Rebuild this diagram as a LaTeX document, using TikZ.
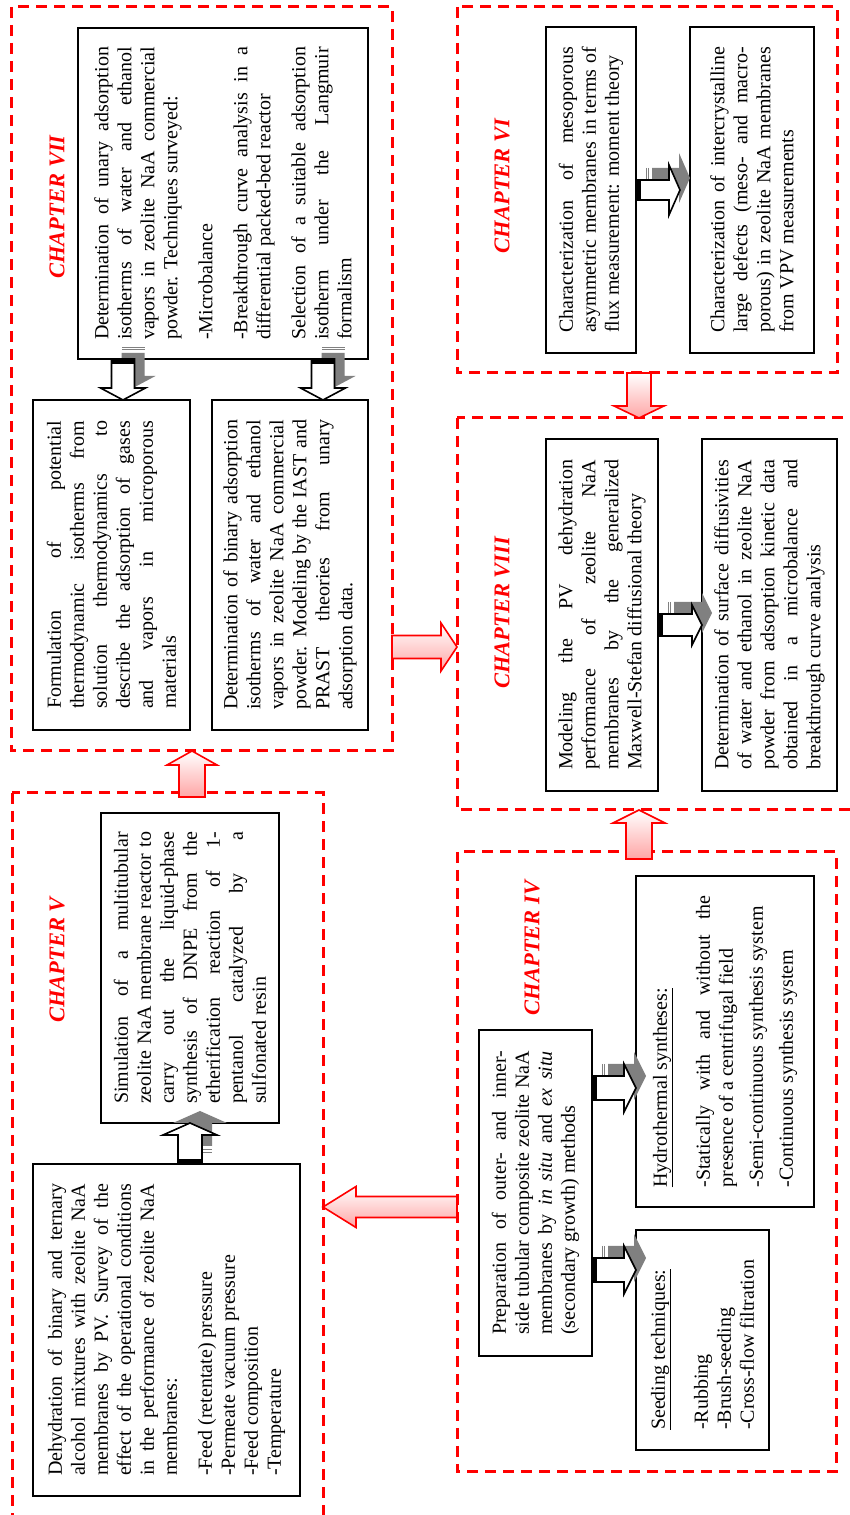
\documentclass[tikz,border=0pt]{standalone}
\usepackage{fontspec}
\setmainfont{Liberation Serif}
\usetikzlibrary{calc}

\setlength{\parindent}{0pt}
\tolerance=10000
\hbadness=10000
\hyphenpenalty=10000
\exhyphenpenalty=10000

\tikzset{
  chapframe/.style={draw=red, line width=3pt, dash pattern=on 11pt off 7pt, outer sep=0pt},
  chaptitle/.style={text=red, inner sep=0pt, font=\fontsize{22.5}{27}\selectfont\bfseries\itshape},
  stepbox/.style={draw, fill=white, line width=1.8pt, inner sep=0pt, outer sep=0pt, align=justify,
    font=\fontsize{20}{23}\selectfont},
  redarrow/.style={draw=red, line width=1.6pt, top color=white, bottom color=red!35},
  whitearrow/.style={draw=black, line width=1.6pt, fill=white},
  shadowarrow/.style={fill=black!50},
}

% block arrow: style, tail, tip, half shaft, half head, head length
\newcommand{\blockarrow}[6]{%
  \path #2 coordinate (ba-t) #3 coordinate (ba-h);
  \path ($(ba-h)!#6!(ba-t)$) coordinate (ba-b);
  \path[#1] ($(ba-t)!#4!90:(ba-h)$) -- ($(ba-b)!#4!90:(ba-h)$)
    -- ($(ba-b)!#5!90:(ba-h)$) -- (ba-h) -- ($(ba-b)!#5!-90:(ba-h)$)
    -- ($(ba-b)!#4!-90:(ba-h)$) -- ($(ba-t)!#4!-90:(ba-h)$) -- cycle;
}

% striped arrow with grey shadow: tail, tip, half shaft, half head, head length
\newcommand{\steparrow}[5]{%
  \path #1 coordinate (sa-t) #2 coordinate (sa-h);
  \path ($(sa-t)+(12,10)$) coordinate (sh-t) ($(sa-h)+(12,10)$) coordinate (sh-h);
  \blockarrow{shadowarrow}{($(sh-t)!6pt!(sh-h)$)}{(sh-h)}{#3}{#4}{#5}
  \path ($(sh-t)!2.5pt!(sh-h)$) coordinate (sh-s);
  \draw[black!50, line width=0.8pt] ($(sh-t)!#3!90:(sh-h)$) -- ($(sh-t)!#3!-90:(sh-h)$)
    ($(sh-s)!#3!90:(sh-h)$) -- ($(sh-s)!#3!-90:(sh-h)$);
  \blockarrow{whitearrow}{(sa-t)}{(sa-h)}{#3}{#4}{#5}
  \path ($(sa-t)!5pt!(sa-h)$) coordinate (sa-s);
  \fill ($(sa-t)!#3!90:(sa-h)$) -- ($(sa-s)!#3!90:(sa-h)$)
    -- ($(sa-s)!#3!-90:(sa-h)$) -- ($(sa-t)!#3!-90:(sa-h)$) -- cycle;
}

\begin{document}
\begin{tikzpicture}[x=1pt, y=-1pt, rotate=90, transform shape]

  %% ════ chapter frames ════
  \node[chapframe, minimum width=744pt, minimum height=381pt] (chVII) at (1136,201.5) {};
  \node[chapframe, minimum width=366pt, minimum height=380pt] (chVI) at (1325,647) {};
  \node[chapframe, minimum width=392pt, minimum height=413pt] (chVIII) at (901,663.5) {};
  \node[chapframe, minimum width=620pt, minimum height=379pt] (chIV) at (353,646.5) {};
  \node[chapframe, minimum width=737pt, minimum height=311pt] (chV) at (353.5,167.5) {};

  %% ════ chapter VII ════
  \node[stepbox, text width=293pt, minimum width=331pt, minimum height=290pt] (u7) at (1321.5,223)
    {Determination of unary adsorption\linebreak isotherms of water and ethanol\linebreak
     vapors in zeolite NaA commercial\linebreak powder. Techniques surveyed:\\[12pt]
     -Microbalance\\[12pt]
     -Breakthrough curve analysis in a\linebreak differential packed-bed reactor\\[12pt]
     Selection of a suitable adsorption\linebreak isotherm under the Langmuir\linebreak formalism};
  \node[stepbox, text width=288pt, minimum width=330pt, minimum height=157pt] (f7) at (950,111.5)
    {Formulation of potential\linebreak thermodynamic isotherms from\linebreak
     solution thermodynamics to\linebreak describe the adsorption of gases\linebreak
     and vapors in microporous\linebreak materials};
  \node[stepbox, text width=290pt, minimum width=330pt, minimum height=156pt] (b7) at (950,290)
    {Determination of binary adsorption\linebreak isotherms of water and ethanol\linebreak
     vapors in zeolite NaA commercial\linebreak powder. Modeling by the IAST and\linebreak
     PRAST theories from unary\linebreak adsorption data.};

  %% ════ chapter VI ════
  \node[stepbox, text width=286pt, minimum width=326pt, minimum height=90pt] (s6a) at (1325,591)
    {Characterization of mesoporous\linebreak asymmetric membranes in terms of\linebreak
     flux measurement: moment theory};
  \node[stepbox, text width=286pt, minimum width=326pt, minimum height=124pt] (s6b) at (1325,752)
    {Characterization of intercrystalline\linebreak large defects (meso- and macro-\linebreak
     porous) in zeolite NaA membranes\linebreak from VPV measurements};

  %% ════ chapter VIII ════
  \node[stepbox, text width=310pt, minimum width=352pt, minimum height=112pt] (m8a) at (900,602)
    {Modeling the PV dehydration\linebreak performance of zeolite NaA\linebreak
     membranes by the generalized\linebreak Maxwell-Stefan diffusional theory};
  \node[stepbox, text width=310pt, minimum width=352pt, minimum height=135pt] (m8b) at (900,769.5)
    {Determination of surface diffusivities\linebreak of water and ethanol in zeolite NaA\linebreak
     powder from adsorption kinetic data\linebreak obtained in a microbalance and\linebreak
     breakthrough curve analysis};

  %% ════ chapter IV ════
  \node[stepbox, text width=284pt, minimum width=326pt, minimum height=113pt] (p4) at (322,535.5)
    {Preparation of outer- and inner-\linebreak side tubular composite zeolite NaA\linebreak
     membranes by \emph{in situ} and \emph{ex situ}\linebreak (secondary growth) methods};
  \node[stepbox, text width=292pt, minimum width=331pt, minimum height=178pt] (h4) at (473.5,725)
    {\underline{Hydrothermal syntheses:}\\[20pt]
     -Statically with and without the\linebreak presence of a centrifugal field\\[7pt]
     -Semi-continuous synthesis system\\[7pt]
     -Continuous synthesis system};
  \node[stepbox, text width=180pt, minimum width=220pt, minimum height=133pt] (s4) at (175,702.5)
    {\underline{Seeding techniques:}\\[20pt]
     -Rubbing\\ -Brush-seeding\\ -Cross-flow filtration};

  %% ════ chapter V ════
  \node[stepbox, text width=272pt, minimum width=310pt, minimum height=178pt] (s5) at (547,190)
    {Simulation of a multitubular\linebreak zeolite NaA membrane reactor to\linebreak
     carry out the liquid-phase\linebreak synthesis of DNPE from the\linebreak
     etherification reaction of 1-\linebreak pentanol catalyzed by a\linebreak sulfonated resin};
  \node[stepbox, text width=292pt, minimum width=332pt, minimum height=267pt] (d5) at (185,166.5)
    {Dehydration of binary and ternary\linebreak alcohol mixtures with zeolite NaA\linebreak
     membranes by PV. Survey of the\linebreak effect of the operational conditions\linebreak
     in the performance of zeolite NaA\linebreak membranes:\\[12pt]
     -Feed (retentate) pressure\\ -Permeate vacuum pressure\\ -Feed composition\\ -Temperature};

  %% ════ arrows inside the chapters ════
  \steparrow{($(u7.west)+(0,-100)$)}{($(f7.east)+(0,11.5)$)}{11.5pt}{22.5pt}{12pt}
  \steparrow{($(u7.west)+(0,100)$)}{($(b7.east)+(0,33)$)}{11.5pt}{22.5pt}{12pt}
  \steparrow{(s6a.south)}{($(s6b.north)+(0,-10)$)}{10pt}{25pt}{11pt}
  \steparrow{($(m8a.south)+(-10,0)$)}{($(m8b.north)+(-10,0)$)}{11pt}{20pt}{10pt}
  \steparrow{($(p4.south)+(105,0)$)}{($(h4.north)+(-46.5,0)$)}{12pt}{24pt}{12pt}
  \steparrow{($(p4.south)+(-77,0)$)}{($(s4.north)+(70,0)$)}{12pt}{24pt}{12pt}
  \steparrow{($(d5.east)+(0,23.5)$)}{(s5.west)}{12pt}{27pt}{12pt}

  %% ════ arrows between the chapters ════
  \blockarrow{redarrow}{($(chV.east)+(-4,24.5)$)}{($(chVII.west)+(0,-9.5)$)}{13pt}{25pt}{14pt}
  \blockarrow{redarrow}{($(chVII.south)+(-268,0)$)}{($(chVIII.north)+(-33,0)$)}{11.5pt}{24pt}{16pt}
  \blockarrow{redarrow}{($(chVI.west)+(0,-8)$)}{($(chVIII.east)+(0,-24.5)$)}{12pt}{25pt}{12pt}
  \blockarrow{redarrow}{($(chIV.east)+(-7,-7.5)$)}{($(chVIII.west)+(0,-24.5)$)}{13pt}{26pt}{13pt}
  \blockarrow{redarrow}{($(chIV.north)+(-45,0)$)}{($(chV.south)+(-45.5,0)$)}{10.5pt}{20.5pt}{33pt}

  %% ════ chapter titles ════
  \node[chaptitle] (t7) at (1308,57) {CHAPTER VII};
  \node[chaptitle] (t6) at (1329,502) {CHAPTER VI};
  \node[chaptitle] (t8) at (902,502) {CHAPTER VIII};
  \node[chaptitle] (t4) at (567,532) {CHAPTER IV};
  \node[chaptitle] (t5) at (555,57) {CHAPTER V};

  % fix the canvas to the reference size
  \pgfresetboundingbox
  \path[use as bounding box] (0,0) rectangle (1515,850);
\end{tikzpicture}
\end{document}
